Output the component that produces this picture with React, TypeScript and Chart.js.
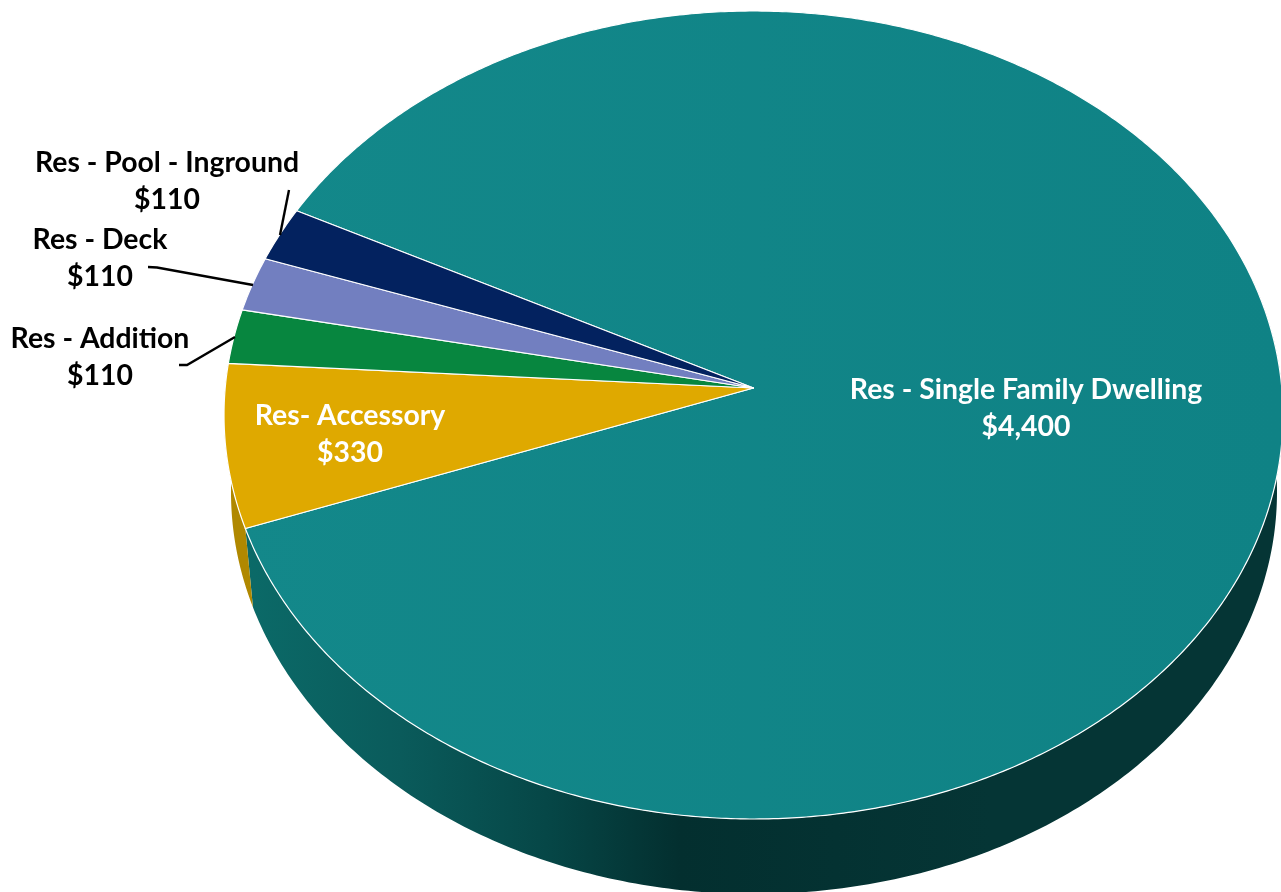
import React, { useEffect, useRef } from "react";
import { Chart, registerables } from "chart.js";

Chart.register(...registerables);

const categories = ["Res - Single Family Dwelling", "Res- Accessory", "Res - Addition", "Res - Deck", "Res - Pool - Inground"];
const values = [4400, 330, 110, 110, 110];
const colors = ["#12868a", "#dfa900", "#07863f", "#727fc0", "#03225f"];
const wallColors = ["#053535", "#b08800", "#05602c", "#525b8a", "#021740"];
const labelColors = ["#ffffff", "#ffffff", "#000000", "#000000", "#000000"];
const labelCentres = [[1026, 390], [350, 416], [100, 339], [100, 240], [167, 163]];
const leaders = [
  [],
  [],
  [[179, 365], [187, 365], [235, 337]],
  [[148, 267], [157, 267.5], [253, 285]],
  [[289, 190], [280, 235]],
];

const APEX_X = 753.5, APEX_Y = 388, A = 528.3, B = 402.2, K = 0.0668;
const BASE_X = 754, BASE_Y = 492, BASE_RX = 523, BASE_RY = 402, BASE_SHIFT = (3.3 * Math.PI) / 180;
const FONT = 'bold 28.4px Lato';
const LINE = 37;

const top = (t: number): [number, number] => {
  const x = Math.cos(t), y = Math.sin(t), w = 1 - K * y;
  return [APEX_X + (A * x) / w, APEX_Y + (B * y) / w];
};
const base = (t: number): [number, number] => [
  BASE_X + BASE_RX * Math.cos(t + BASE_SHIFT),
  BASE_Y + BASE_RY * Math.sin(t + BASE_SHIFT),
];

function wall(ctx: CanvasRenderingContext2D, from: number, to: number, fill: string | CanvasGradient) {
  const n = 240;
  ctx.beginPath();
  for (let i = 0; i <= n; i++) {
    const p = top(from + ((to - from) * i) / n);
    i ? ctx.lineTo(p[0], p[1]) : ctx.moveTo(p[0], p[1]);
  }
  for (let i = n; i >= 0; i--) {
    const p = base(from + ((to - from) * i) / n);
    ctx.lineTo(p[0], p[1]);
  }
  ctx.closePath();
  ctx.fillStyle = fill;
  ctx.fill();
}

function face(ctx: CanvasRenderingContext2D, from: number, to: number, fill: string | CanvasGradient) {
  const n = Math.max(8, Math.ceil((to - from) * 120));
  ctx.beginPath();
  ctx.moveTo(APEX_X, APEX_Y);
  for (let i = 0; i <= n; i++) {
    const p = top(from + ((to - from) * i) / n);
    ctx.lineTo(p[0], p[1]);
  }
  ctx.closePath();
  ctx.fillStyle = fill;
  ctx.fill();
  ctx.strokeStyle = "#ffffff";
  ctx.lineWidth = 1.2;
  ctx.lineJoin = "round";
  ctx.stroke();
}

const pie3d = {
  id: "pie3d",
  beforeDatasetDraw(chart: any) {
    const ctx: CanvasRenderingContext2D = chart.ctx;
    const arcs = chart.getDatasetMeta(0).data;
    const twoPi = Math.PI * 2;
    ctx.save();
    const wallGrad = ctx.createLinearGradient(245, 0, 1281, 0);
    wallGrad.addColorStop(0, "#0b6a68");
    wallGrad.addColorStop(0.15, "#0a5b5b");
    wallGrad.addColorStop(0.29, "#064747");
    wallGrad.addColorStop(0.42, "#032f2f");
    wallGrad.addColorStop(0.72, "#053535");
    wallGrad.addColorStop(1, "#053535");
    // Side walls, drawn first so the top faces sit over them.
    const big = arcs[0];
    const bigEnd = big.endAngle;
    wall(ctx, bigEnd - twoPi * 0.49, bigEnd, wallGrad);
    wall(ctx, arcs[1].startAngle, arcs[1].endAngle, wallColors[1]);
    const faceGrad = ctx.createLinearGradient(224, 0, 1281, 0);
    faceGrad.addColorStop(0, "#13888a");
    faceGrad.addColorStop(1, "#0f8285");
    arcs.forEach((arc: any, i: number) => {
      face(ctx, arc.startAngle, arc.endAngle, i === 0 ? faceGrad : colors[i]);
    });
    ctx.restore();
    return false;
  },
  afterDatasetsDraw(chart: any) {
    const ctx: CanvasRenderingContext2D = chart.ctx;
    const fmt = (v: number) => "$" + v.toLocaleString("en-US");
    ctx.save();
    ctx.strokeStyle = "#000000";
    ctx.lineWidth = 2.4;
    leaders.forEach((pts) => {
      if (!pts.length) return;
      ctx.beginPath();
      pts.forEach((p, j) => (j ? ctx.lineTo(p[0], p[1]) : ctx.moveTo(p[0], p[1])));
      ctx.stroke();
    });
    ctx.font = FONT;
    ctx.textAlign = "center";
    ctx.textBaseline = "middle";
    categories.forEach((c, i) => {
      ctx.fillStyle = labelColors[i];
      ctx.fillText(c, labelCentres[i][0], labelCentres[i][1]);
      ctx.fillText(fmt(values[i]), labelCentres[i][0], labelCentres[i][1] + LINE);
    });
    ctx.restore();
  },
};

export default function App() {
  const ref = useRef<HTMLCanvasElement>(null);
  useEffect(() => {
    document.body.style.margin = "0";
    const chart = new Chart(ref.current!, {
      type: "pie",
      data: {
        labels: categories,
        datasets: [{ data: values, backgroundColor: colors, borderColor: "#ffffff", borderWidth: 1 }],
      },
      options: {
        animation: false,
        responsive: false,
        rotation: 297,
        events: [],
        plugins: { legend: { display: false }, tooltip: { enabled: false } },
      },
      plugins: [pie3d],
    } as any);
    return () => chart.destroy();
  }, []);
  return <canvas ref={ref} width={1281} height={892} style={{ display: "block", background: "#fff" }} />;
}
